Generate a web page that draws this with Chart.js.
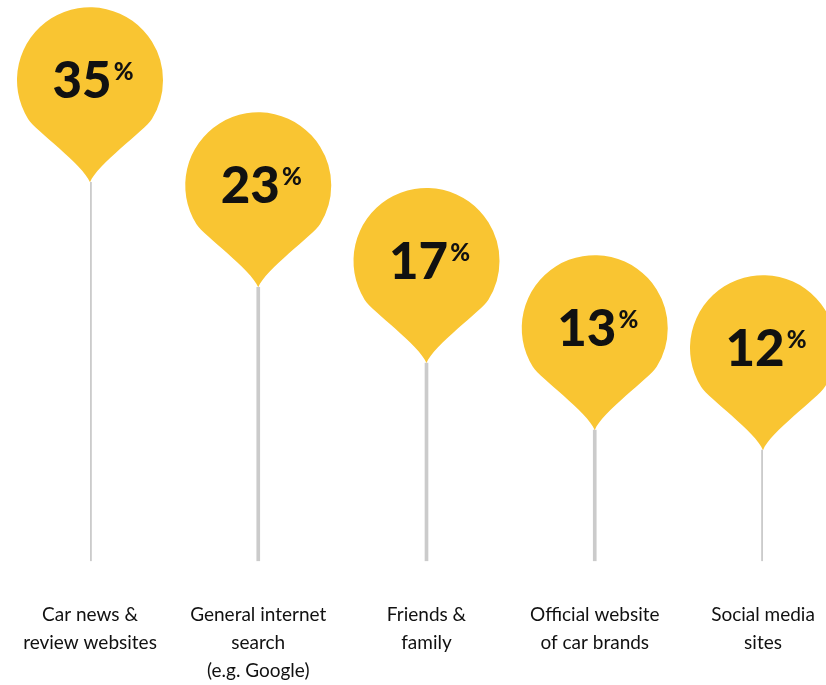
<!DOCTYPE html>
<html>
<head>
<meta charset="utf-8">
<script src="https://cdn.jsdelivr.net/npm/chart.js@4.4.1/dist/chart.umd.min.js"></script>
<style>
html, body { margin: 0; padding: 0; background: #fff; }
#wrap { width: 826px; height: 685px; }
</style>
</head>
<body>
<div id="wrap"><canvas id="myChart"></canvas></div>
<script>
var categories = [
    ['Car news &', 'review websites'],
    ['General internet', 'search', '(e.g. Google)'],
    ['Friends &', 'family'],
    ['Official website', 'of car brands'],
    ['Social media', 'sites']
];
var shares = [35, 23, 17, 13, 12];

// draws the yellow pin on top of each stick
var pinPlugin = {
    id: 'pins',
    afterDatasetsDraw: function(chart) {
        var ctx = chart.ctx;
        var meta = chart.getDatasetMeta(0);
        meta.data.forEach(function(bar, i) {
            var tipX = bar.x, tipY = bar.y;
            var r = 73, cx = tipX, cy = tipY - 102;
            var a = 58 * Math.PI / 180;
            var px = r * Math.sin(a), py = r * Math.cos(a);
            var hx = Math.cos(a) * 14, hy = Math.sin(a) * 14;

            ctx.save();
            ctx.fillStyle = '#f9c532';
            ctx.beginPath();
            ctx.moveTo(tipX, tipY);
            ctx.bezierCurveTo(cx - 7, cy + 84, cx - px + hx, cy + py + hy, cx - px, cy + py);
            ctx.arc(cx, cy, r, Math.PI / 2 + a, Math.PI * 2.5 - a, false);
            ctx.bezierCurveTo(cx + px - hx, cy + py + hy, cx + 7, cy + 84, tipX, tipY);
            ctx.closePath();
            ctx.fill();

            var num = String(shares[i]);
            ctx.fillStyle = '#111';
            ctx.textBaseline = 'alphabetic';
            ctx.textAlign = 'left';
            ctx.font = '900 51px Lato';
            var w1 = ctx.measureText(num).width;
            ctx.font = '900 24px Lato';
            var w2 = ctx.measureText('%').width;
            var x0 = cx + 3 - (w1 + w2 + 2) / 2;
            ctx.font = '900 51px Lato';
            ctx.fillText(num, x0, cy + 18);
            ctx.font = '900 24px Lato';
            ctx.fillText('%', x0 + w1 + 2, cy);
            ctx.restore();
        });
    }
};

var ctx = document.getElementById('myChart').getContext('2d');
var pinChart = new Chart(ctx, {
    type: 'bar',
    data: {
        labels: categories,
        datasets: [{
            data: shares,
            backgroundColor: '#cbcbcb',
            borderWidth: 0,
            barThickness: 3
        }]
    },
    options: {
        responsive: true,
        maintainAspectRatio: false,
        animation: false,
        layout: { padding: { left: 90, right: 63, top: 0, bottom: 0 } },
        plugins: {
            legend: { display: false },
            tooltip: { enabled: false }
        },
        scales: {
            x: {
                offset: false,
                grid: { display: false, drawTicks: true, tickLength: 40 },
                border: { display: false },
                ticks: {
                    color: '#111',
                    font: { family: 'Lato', size: 19, lineHeight: 1.47 },
                    padding: 0,
                    maxRotation: 0,
                    autoSkip: false
                }
            },
            y: {
                type: 'logarithmic',
                display: false,
                bounds: 'data',
                min: 7.7,
                max: 72.5
            }
        }
    },
    plugins: [pinPlugin]
});
</script>
</body>
</html>
